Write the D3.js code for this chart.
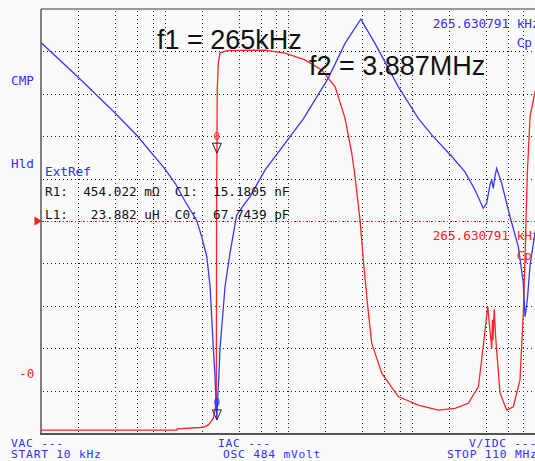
<!DOCTYPE html>
<html>
<head>
<meta charset="utf-8">
<title>Resonator sweep</title>
<script src="https://cdn.jsdelivr.net/npm/d3@7"></script>
<style>
  body { margin: 0; background: #fafafa; }
  svg { display: block; }
  text { white-space: pre; }
  .mono { font-family: "DejaVu Sans Mono", monospace; font-size: 12.7px; }
  .foot { font-size: 11.3px; letter-spacing: 0.75px; }
  .big { font-family: "Liberation Sans", Arial, sans-serif; font-size: 27px; fill: #111; }
  .grid line { stroke: #262626; stroke-dasharray: 1,3; shape-rendering: crispEdges; }
</style>
</head>
<body>
<script>

// sweep 10 kHz .. 110 MHz, values in screen divisions (0..10)
var blueFreq = [10, 20, 40, 60, 100, 122, 147, 182, 200, 220, 234, 241, 248, 256, 261, 265.6, 269, 276, 281, 291, 309, 339, 384, 449, 492, 651, 946, 1331, 2119, 2896, 3887, 5060, 7811, 11350, 14580, 21200, 27100, 32700, 38100, 40600, 43200, 44600, 45900, 47400, 48900, 53700, 62800, 73300, 80400, 83000, 86700, 91200, 100000, 110000];
var blueVal  = [9.21, 8.39, 7.54, 7.01, 6.24, 5.89, 5.46, 5.02, 4.63, 4.16, 3.45, 2.74, 2.04, 1.37, 0.78, 0.31, 0.78, 1.37, 1.96, 2.51, 3.45, 4.24, 5.14, 5.42, 5.57, 6.20, 6.83, 7.41, 8.37, 9.19, 9.76, 9.19, 8.17, 7.42, 7.03, 6.52, 6.16, 5.73, 5.30, 5.42, 5.85, 5.97, 5.77, 6.05, 6.24, 5.89, 5.10, 4.39, 3.54, 2.74, 3.14, 3.96, 4.72, 5.20];

var redFreq = [10, 126, 127, 194, 213, 226, 238, 248.5, 256.4, 262.6, 264.3, 267.3, 272.7, 281, 319, 651, 946, 1373, 1875, 2404, 2896, 3281, 3491, 3830, 4075, 4365, 4760, 5741, 7817, 11350, 16500, 22500, 28800, 34800, 38100, 41400, 44600, 45300, 45700, 46800, 47900, 48900, 52100, 59000, 66700, 75600, 80400, 83000, 84600, 86700, 91200, 100000, 110000];
var redVal  = [0.07, 0.07, 0.10, 0.13, 0.15, 0.19, 0.27, 0.35, 0.54, 0.78, 5.50, 8.09, 8.72, 8.96, 9.02, 9.03, 8.96, 8.80, 8.56, 8.17, 7.42, 6.60, 6.04, 5.02, 4.08, 3.14, 2.12, 1.41, 0.86, 0.66, 0.54, 0.58, 0.70, 1.09, 2.04, 2.98, 2.00, 2.67, 2.19, 2.92, 2.31, 1.96, 0.94, 0.54, 0.62, 1.25, 2.82, 4.08, 5.02, 6.13, 7.46, 8.05, 8.30];

var gridFreq = [20, 40, 60, 80, 100, 200, 400, 600, 800, 1000, 2000, 4000, 6000, 8000, 10000, 20000, 40000, 60000, 80000, 100000];
var gridDiv = [1, 2, 3, 4, 5, 6, 7, 8, 9];

var markerFreq = 265.630791;
var markerRed = 6.6, markerBlue = 0.31;
var refLevel = 5;

var readouts = ["R1:  454.022 m\u03A9  C1:  15.1805 nF", "L1:   23.882 uH  C0:  67.7439 pF"];
var markerText = "265.630791 kHz";
var annotations = ["f1 = 265kHz", "f2 = 3.887MHz"];
var footer = [["VAC ---", "START 10 kHz"], ["IAC ---", "OSC 484 mVolt"], ["V/IDC ---", "STOP 110 MHz"]];

var W = 535, H = 461;
var pL = 41, pT = 9, pB = 433;
var pR = pL + 123.5 * Math.log10(11000);

var svg = d3.select('body').append('svg')
  .attr('width', W)
  .attr('height', H);

var x = d3.scaleLog().domain([10, 110000]).range([pL, pR]);
var y = d3.scaleLinear().domain([0, 10]).range([pB, pT]);

svg.append('clipPath').attr('id', 'plot')
  .append('rect').attr('x', pL).attr('y', pT).attr('width', pR - pL).attr('height', pB - pT);

// grid
var grid = svg.append('g').attr('class', 'grid');
grid.selectAll('.v').data(gridFreq).enter().append('line')
  .attr('x1', function(d) { return Math.round(x(d)) + 0.5; })
  .attr('x2', function(d) { return Math.round(x(d)) + 0.5; })
  .attr('y1', pT + 2).attr('y2', pB);
grid.selectAll('.h').data(gridDiv).enter().append('line')
  .attr('x1', pL + 2).attr('x2', W)
  .attr('y1', function(d) { return Math.round(y(d)) + 0.5; })
  .attr('y2', function(d) { return Math.round(y(d)) + 0.5; });

// reference line
svg.append('line')
  .attr('x1', pL + 1).attr('x2', W)
  .attr('y1', Math.round(y(refLevel)) + 0.5).attr('y2', Math.round(y(refLevel)) + 0.5)
  .attr('stroke', '#ff3030').attr('stroke-dasharray', '1,2').attr('shape-rendering', 'crispEdges');
svg.append('path')
  .attr('d', d3.symbol().type(d3.symbolTriangle).size(34)())
  .attr('transform', 'translate(37,' + y(refLevel) + ') rotate(90)')
  .attr('fill', '#ff2020');

// frame
svg.append('line').attr('x1', pL).attr('x2', pL).attr('y1', pT).attr('y2', pB)
  .attr('stroke', '#555').attr('stroke-width', 1.5);
svg.append('line').attr('x1', pL).attr('x2', W).attr('y1', pT).attr('y2', pT)
  .attr('stroke', '#777').attr('stroke-width', 1.5);
svg.append('line').attr('x1', pL - 1).attr('x2', W).attr('y1', pB + 1).attr('y2', pB + 1)
  .attr('stroke', '#555').attr('stroke-width', 2);

// traces
var line = d3.line()
  .x(function(d) { return x(d[0]); })
  .y(function(d) { return y(d[1]); });

var traces = svg.append('g').attr('clip-path', 'url(#plot)');
traces.append('path')
  .datum(d3.zip(redFreq, redVal))
  .attr('d', line)
  .attr('fill', 'none').attr('stroke', '#ff2424').attr('stroke-width', 1.3);
traces.append('path')
  .datum(d3.zip(blueFreq, blueVal))
  .attr('d', line)
  .attr('fill', 'none').attr('stroke', '#3a3af5').attr('stroke-width', 1.3);

// markers
var markers = [{v: markerRed, c: '#ff2020'}, {v: markerBlue, c: '#3030ff'}];
markers.forEach(function(m) {
  var mx = x(markerFreq), my = y(m.v);
  svg.append('path')
    .attr('d', 'M' + (mx - 4.5) + ',' + (my - 10) + 'L' + (mx + 4.5) + ',' + (my - 10) + 'L' + mx + ',' + my + 'Z')
    .attr('fill', 'none').attr('stroke', '#222').attr('stroke-width', 1);
  svg.append('text').attr('class', 'mono')
    .attr('x', mx).attr('y', my - 13.5)
    .attr('text-anchor', 'middle')
    .style('font-size', '11px')
    .attr('fill', m.c)
    .text('0');
});

// labels
function label(t, lx, ly, c) {
  return svg.append('text').attr('class', 'mono').attr('x', lx).attr('y', ly).attr('fill', c).text(t);
}
label('CMP', 11, 84.5, '#3030ff');
label('Hld', 11, 167.5, '#3030ff');
label('-0', 19, 377.5, '#ff2020');

label('ExtRef', 45, 176, '#3030ff');
label(readouts[0], 45, 196, '#111');
label(readouts[1], 45, 218.7, '#111');

label(markerText, 432.7, 27.5, '#3030ff');
label('Cp', 516.7, 46.5, '#3030ff');
label(markerText, 432.7, 239.5, '#ff2020');
label('Cp', 516.7, 260, '#ff2020');

var footX = [[11, 11], [218, 223], [469, 447]];
footer.forEach(function(pair, i) {
  label(pair[0], footX[i][0], 446.5, '#3030ff').attr('class', 'mono foot');
  label(pair[1], footX[i][1], 458, '#3030ff').attr('class', 'mono foot');
});

svg.append('text').attr('class', 'big').attr('x', 157).attr('y', 49).text(annotations[0]);
svg.append('text').attr('class', 'big').attr('x', 309).attr('y', 75).text(annotations[1]);

</script>
</body>
</html>
